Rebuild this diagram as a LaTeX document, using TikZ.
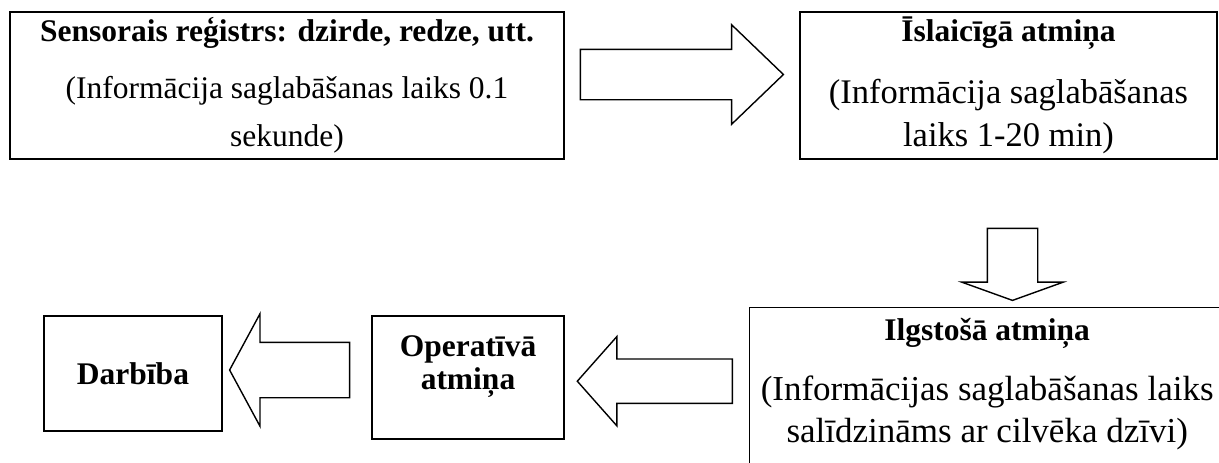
\documentclass[tikz,border=0pt]{standalone}
\usepackage{fontspec}
\setmainfont{Liberation Serif}
\usetikzlibrary{shapes.arrows}

\begin{document}
\begin{tikzpicture}[x=1pt,y=-1pt,
        box/.style={draw, line width=1.4pt, rectangle, align=center, inner sep=0pt},
        bigarrow/.style={draw, line width=1.4pt, single arrow, single arrow head indent=0pt,
            inner xsep=0pt, minimum width=0pt, anchor=tail},
        bold/.style={font=\fontsize{31.5}{33}\selectfont\bfseries}]
            \clip (0,0) rectangle (1219,463);
            \node [box, minimum width=554, minimum height=147, font=\fontsize{31.5}{48}\selectfont] (sens) at (287,85.5)
                {\textbf{Sensorais reģistrs: dzirde, redze, utt.}\\[9pt](Informācija saglabāšanas laiks 0.1\\sekunde)};
            \node [box, minimum width=417, minimum height=147, font=\fontsize{34.5}{43}\selectfont] (isl) at (1008.5,85.5)
                {{\fontsize{31.5}{43}\selectfont\bfseries Īslaicīgā atmiņa}\\[19pt](Informācija saglabāšanas\\laiks 1-20 min)};
            \node [box, anchor=north west, minimum width=475, minimum height=175, font=\fontsize{35}{42}\selectfont] (ilg) at (749,307)
                {{\fontsize{31.5}{42}\selectfont\bfseries Ilgstošā atmiņa}\\[18pt](Informācijas saglabāšanas laiks\\salīdzināms ar cilvēka dzīvi)\rule[-30pt]{0pt}{30pt}};
            \node [box, bold, minimum width=192, minimum height=123] (oper) at (468,377.5)
                {Operatīvā\\atmiņa\rule[-30pt]{0pt}{30pt}};
            \node [box, bold, minimum width=178, minimum height=115] (darb) at (133,373.5) {Darbība};
            \node [bigarrow, minimum height=203, inner ysep=24.5, single arrow head extend=24.5,
                single arrow tip angle=87.7] (a1) at ([xshift=15, yshift=11]sens.east) {};
            \node [bigarrow, rotate=-90, minimum height=72, inner ysep=24.5, single arrow head extend=25.5,
                single arrow tip angle=140.4] (a2) at ([xshift=4, yshift=-68]isl.south) {};
            \node [bigarrow, rotate=180, minimum height=155, inner ysep=21.5, single arrow head extend=22.5,
                single arrow tip angle=96.9] (a3) at ([xshift=-16, yshift=14]ilg.west) {};
            \node [bigarrow, rotate=180, minimum height=120, inner ysep=27, single arrow head extend=28.5,
                single arrow tip angle=123.2] (a4) at ([xshift=-21, yshift=7.5]oper.west) {};
        \end{tikzpicture}
\end{document}
